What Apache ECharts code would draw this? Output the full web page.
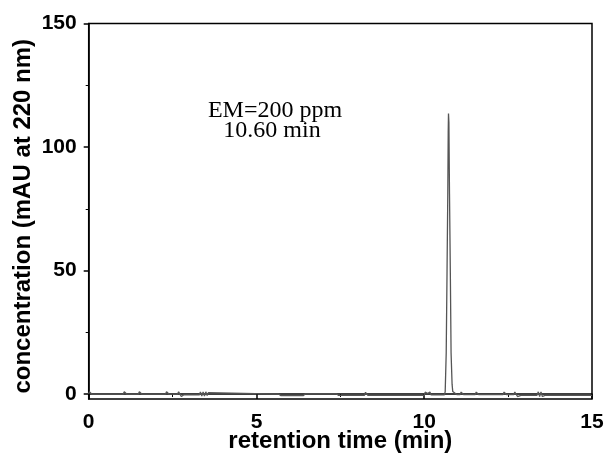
<!DOCTYPE html>
<html><head><meta charset="utf-8">
<script src="https://cdn.jsdelivr.net/npm/echarts@6/dist/echarts.min.js"></script>
<style>html,body{margin:0;padding:0;background:#fff}#c{width:608px;height:459px}</style>
</head><body><div id="c"></div>
<script>
// retention time (min)
const times = [0,0.02,0.05,0.09,0.12,
  1.03,1.06,1.10,1.13, 1.48,1.51,1.55,1.58, 2.29,2.32,2.36,2.39,
  2.65,2.68,2.72,2.76,2.80,2.84,
  3.30,3.33,3.37,3.41,3.45,3.49,3.53,3.57,3.61,
  5.66,5.72, 6.40,6.46, 7.38,7.44,
  8.22,8.25,8.29,8.32,
  10.00,10.03,10.07,10.10,10.13,10.17,10.20,
  10.60,10.625,10.655,10.68,10.702,10.715,10.723,10.735,10.753,10.78,10.80,10.83,10.85,10.90,10.97,
  11.07,11.10,11.14,11.17, 11.52,11.55,11.59,11.62, 12.35,12.38,12.42,12.45,
  12.67,12.70,12.74,12.78,12.83,12.88,
  13.36,13.40,13.44,13.48,13.52,13.56,13.60,
  15];
// concentration (mAU at 220 nm)
const signal = [0,0.9,0.9,0,0,
  0,0.9,0.9,0, 0,0.9,0.9,0, 0,0.9,0.9,0,
  0,0.9,0.9,-1.0,-0.3,-0.3,
  -0.3,0.9,-0.8,0.9,-0.8,0.9,-0.6,0.6,0,
  0,-0.6, -0.6,0.1, 0.1,-0.5,
  -0.5,0.7,0.7,-0.5,
  -0.5,0.8,0.8,0.2,0.8,0.8,-0.3,
  -0.3,1,16.6,50,81,106,113.6,110,81,46,16.6,4,1,0.3,-0.2,
  -0.2,0.8,0.8,-0.2, -0.2,0.8,0.8,-0.2, -0.2,0.8,0.8,-0.2,
  -0.2,0.8,0.8,-1.0,-0.5,-0.5,
  -0.5,0.9,-1.0,0.9,-1.0,-0.5,-0.5,
  -0.5];
const yTicks = [0,50,100,150];
const yMinorTicks = [25,75,125];
const annotation = ['EM=200 ppm','10.60 min'];

const data = times.map((t,i)=>[t,signal[i]]);
const chart = echarts.init(document.getElementById('c'));
const labelFont = {fontFamily:'Liberation Sans',fontWeight:'bold',fontSize:21,color:'#000'};
chart.setOption({
  animation:false,
  grid:{left:88.7,right:16,top:23.5,bottom:60,show:true,borderColor:'#000',borderWidth:1.5,containLabel:false,outerBoundsMode:'none'},
  xAxis:{type:'value',min:0,max:15,interval:5,
    name:'retention time (min)',nameLocation:'middle',nameGap:30,nameMoveOverlap:false,
    nameTextStyle:{fontFamily:'Liberation Sans',fontWeight:'bold',fontSize:24,color:'#000'},
    axisLine:{lineStyle:{color:'#000',width:1.5}},
    axisTick:{length:5,lineStyle:{color:'#000',width:1.5}},
    minorTick:{show:true,splitNumber:2,length:3,lineStyle:{color:'#000',width:1}},
    axisLabel:Object.assign({margin:13},labelFont),
    splitLine:{show:false}},
  yAxis:[{type:'value',min:-2,max:150,
    name:'concentration (mAU at 220 nm)',nameLocation:'middle',nameGap:53,nameMoveOverlap:false,
    nameTextStyle:{fontFamily:'Liberation Sans',fontWeight:'bold',fontSize:24,color:'#000',padding:[0,10,0,0]},
    axisLine:{show:true,lineStyle:{color:'#000',width:1.5}},
    axisTick:{show:true,length:5,customValues:yTicks,lineStyle:{color:'#000',width:1.5}},
    axisLabel:Object.assign({margin:12,customValues:yTicks},labelFont),
    splitLine:{show:false}},
   {type:'value',min:-2,max:150,position:'left',
    axisLine:{show:false},axisLabel:{show:false},splitLine:{show:false},
    axisTick:{show:true,length:3,customValues:yMinorTicks,lineStyle:{color:'#000',width:1}}}],
  graphic:[
    {type:'text',x:275,y:111,style:{text:annotation[0],textAlign:'center',verticalAlign:'middle',font:'24px "Liberation Serif"',fill:'#000'}},
    {type:'text',x:272,y:131,style:{text:annotation[1],textAlign:'center',verticalAlign:'middle',font:'24px "Liberation Serif"',fill:'#000'}}
  ],
  series:[{type:'line',data:data,symbol:'none',lineStyle:{color:'#555',width:1.3},clip:true}]
});
</script></body></html>
